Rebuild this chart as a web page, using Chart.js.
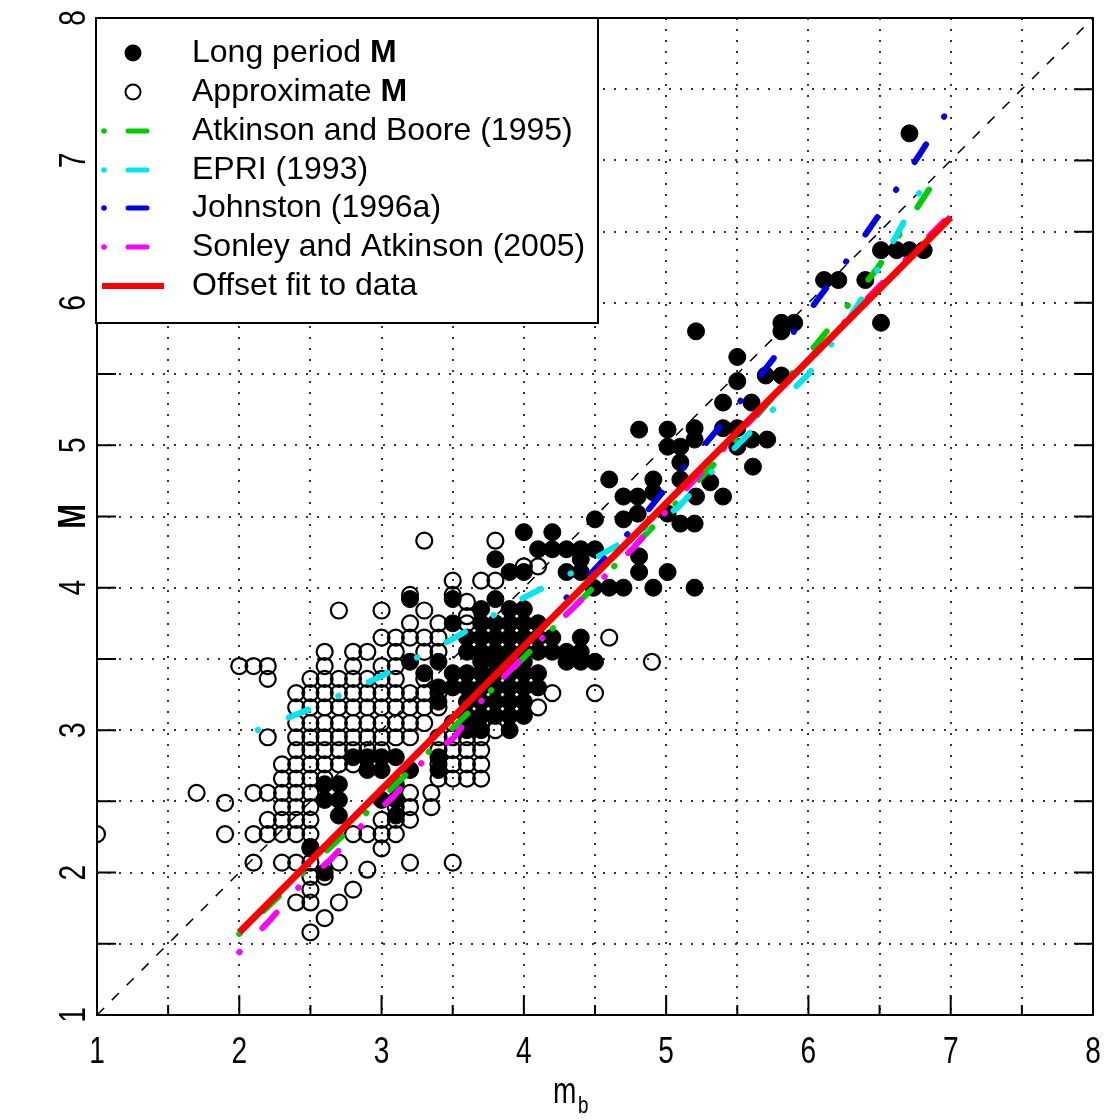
<!DOCTYPE html>
<html>
<head>
<meta charset="utf-8">
<script src="https://cdn.jsdelivr.net/npm/chart.js@4.4.1/dist/chart.umd.min.js"></script>
<style>
  html, body { margin: 0; padding: 0; background: #fff; }
  #wrap { width: 1107px; height: 1120px; }
</style>
</head>
<body>
<div id="wrap"><canvas id="chart" width="1107" height="1120"></canvas></div>
<script>
// axis ticks (every 0.5, labels on the integers)
const tickVals = [1, 1.5, 2, 2.5, 3, 3.5, 4, 4.5, 5, 5.5, 6, 6.5, 7, 7.5, 8];
const tickLabels = ['1', '2', '3', '4', '5', '6', '7', '8'];

// Long period M : rows of [M, [mb, ...]]
const longRows = [
  [7.19, [6.71]],
  [6.37, [6.51, 6.62, 6.71, 6.81]],
  [6.16, [6.11, 6.21, 6.4]],
  [5.86, [5.81, 5.9, 6.51]],
  [5.8, [5.21, 5.81]],
  [5.62, [5.5]],
  [5.49, [5.7, 5.81]],
  [5.45, [5.5]],
  [5.3, [5.4, 5.6]],
  [5.12, [5.2, 5.4, 5.5]],
  [5.11, [4.81, 5.01]],
  [5.04, [5.2, 5.6, 5.71]],
  [4.99, [5.01, 5.1, 5.5]],
  [4.88, [5.1]],
  [4.85, [5.61]],
  [4.76, [4.6, 4.91, 5.1]],
  [4.74, [5.31]],
  [4.67, [4.91]],
  [4.64, [4.7, 4.8, 5.21, 5.4]],
  [4.52, [4.8, 5.01]],
  [4.48, [4.5, 4.7]],
  [4.45, [5.1, 5.2]],
  [4.39, [4.0, 4.2]],
  [4.27, [4.1, 4.2, 4.3, 4.4, 4.5]],
  [4.22, [4.81]],
  [4.2, [3.8, 4.4]],
  [4.11, [3.9, 4.0, 4.3, 4.4, 4.81, 5.01]],
  [4.0, [4.49, 4.6, 4.7, 4.91, 5.2]],
  [3.92, [3.2, 3.5, 3.8]],
  [3.85, [3.7, 3.9, 4.0]],
  [3.75, [3.5, 3.7, 3.8, 3.9, 4.0, 4.1]],
  [3.65, [3.6, 3.7, 3.8, 3.9, 4.0, 4.1, 4.2, 4.4]],
  [3.55, [3.6, 3.7, 3.8, 3.9, 4.0, 4.1, 4.2, 4.3, 4.4]],
  [3.48, [3.2, 3.4, 3.7, 3.8, 3.9, 4.0, 4.3, 4.4, 4.5]],
  [3.4, [3.3, 3.5, 3.6, 3.7, 3.8, 3.9, 4.0, 4.1]],
  [3.3, [3.4, 3.5, 3.6, 3.7, 3.8, 3.9, 4.0, 4.1]],
  [3.2, [3.4, 3.6, 3.7, 3.8, 3.9, 4.0]],
  [3.1, [3.6, 3.7, 3.8, 3.9, 4.0]],
  [3.0, [3.6, 3.7, 3.9]],
  [2.81, [2.8, 2.9, 3.0, 3.1, 3.4]],
  [2.72, [2.9, 3.0, 3.2, 3.4]],
  [2.62, [2.6, 2.7, 3.1]],
  [2.51, [2.6, 2.7, 3.0, 3.1]],
  [2.4, [2.7, 3.1]],
  [2.18, [2.5]],
  [2.0, [2.6]]
];

// Approximate M : rows of [M, [mb, ...]]
const approxRows = [
  [4.33, [3.3, 3.8]],
  [4.15, [4.0, 4.1]],
  [4.05, [3.5, 3.7, 3.8]],
  [3.95, [3.2, 3.5]],
  [3.9, [3.6]],
  [3.84, [2.7, 3.0, 3.3]],
  [3.8, [3.6]],
  [3.75, [3.2, 3.4, 3.6]],
  [3.65, [3.0, 3.1, 3.2, 3.3, 3.4, 4.6]],
  [3.55, [2.6, 2.8, 2.9, 3.1, 3.3, 3.4]],
  [3.48, [4.9]],
  [3.45, [2.0, 2.1, 2.2, 2.6, 2.8, 3.0, 3.1]],
  [3.36, [2.2, 2.5, 2.6, 2.7, 2.8, 2.9, 3.0, 3.1, 3.3]],
  [3.26, [2.4, 2.5, 2.6, 2.7, 2.8, 2.9, 3.0, 3.1, 3.2, 3.3, 3.4, 4.2, 4.5]],
  [3.16, [2.4, 2.5, 2.6, 2.7, 2.8, 2.9, 3.0, 3.1, 3.2, 3.3, 3.4, 4.1]],
  [3.05, [2.4, 2.5, 2.6, 2.7, 2.8, 2.9, 3.0, 3.1, 3.2, 3.3, 3.5, 3.6, 3.7]],
  [3.0, [3.8]],
  [2.95, [2.2, 2.4, 2.5, 2.6, 2.7, 2.8, 2.9, 3.0, 3.1, 3.2, 3.4, 3.5, 3.6, 3.7]],
  [2.86, [2.4, 2.5, 2.6, 2.7, 2.8, 2.9, 3.0, 3.4, 3.5, 3.6, 3.7]],
  [2.76, [2.3, 2.4, 2.5, 2.6, 2.7, 2.8, 3.4, 3.5, 3.6, 3.7]],
  [2.66, [2.3, 2.4, 2.5, 2.6, 3.4, 3.5, 3.6, 3.7]],
  [2.56, [1.7, 2.1, 2.2, 2.3, 2.4, 2.5, 3.2, 3.35]],
  [2.49, [1.9]],
  [2.46, [2.3, 2.4, 2.5, 3.1, 3.2, 3.35]],
  [2.37, [2.2, 2.3, 2.4, 2.5, 3.0, 3.1, 3.2]],
  [2.27, [1.0, 1.9, 2.1, 2.2, 2.3, 2.4, 2.5, 2.8, 2.9, 3.0, 3.1]],
  [2.17, [2.5, 3.0]],
  [2.07, [2.1, 2.3, 2.4, 2.5, 2.7, 3.2, 3.5]],
  [2.02, [2.9]],
  [1.97, [2.5, 2.6]],
  [1.88, [2.5, 2.8]],
  [1.79, [2.4, 2.5, 2.7]],
  [1.68, [2.6]],
  [1.58, [2.5]]
];

// model curves: mb and M
const abMb = [2.0, 3.0, 3.77, 4.21, 4.91, 5.34, 5.7, 6.04, 6.3, 6.49, 6.85];
const abM = [1.57, 2.52, 3.28, 3.72, 4.43, 4.87, 5.28, 5.69, 6.01, 6.25, 6.8];
const epriMb = [2.13, 2.5, 3.0, 3.5, 4.0, 4.35, 4.54, 4.8, 5.08, 5.2, 5.5, 5.78, 6.0, 6.2, 6.37, 6.65, 6.81];
const epriM = [3.0, 3.15, 3.38, 3.64, 3.93, 4.11, 4.23, 4.38, 4.56, 4.69, 5.0, 5.28, 5.5, 5.76, 6.02, 6.53, 6.83];
const johnMb = [4.3, 4.49, 4.77, 5.05, 5.31, 5.57, 5.84, 6.07, 6.31, 6.56, 6.78, 7.0];
const johnM = [3.93, 4.12, 4.42, 4.76, 5.05, 5.37, 5.72, 6.03, 6.35, 6.71, 7.04, 7.38];
const saMb = [2.0, 2.22, 2.41, 2.64, 2.86, 3.08, 3.29, 3.51, 3.72, 4.05, 4.38, 4.77, 5.2, 5.6, 6.0, 6.5, 7.0];
const saM = [1.44, 1.67, 1.89, 2.09, 2.33, 2.53, 2.78, 2.95, 3.23, 3.57, 3.89, 4.28, 4.76, 5.18, 5.6, 6.12, 6.62];
const fitMb = [2.0, 7.0];
const fitM = [1.58, 6.6];
const oneToOne = [1, 8];

const legendItems = [
  {text: 'Long period ', bold: 'M', kind: 'filled'},
  {text: 'Approximate ', bold: 'M', kind: 'open'},
  {text: 'Atkinson and Boore (1995)', kind: 'dash', color: '#00cc00'},
  {text: 'EPRI (1993)', kind: 'dash', color: '#00e5ee'},
  {text: 'Johnston (1996a)', kind: 'dash', color: '#0000ee'},
  {text: 'Sonley and Atkinson (2005)', kind: 'dash', color: '#ff00ff'},
  {text: 'Offset fit to data', kind: 'solid', color: '#ff0000'}
];

const fromRows = rows => rows.flatMap(r => r[1].map(mb => ({x: mb, y: r[0]})));
const pairs = (xs, ys) => xs.map((v, i) => ({x: v, y: ys[i]}));

const dashDot = [0.5, 33, 21, 33];
function curve(label, xs, ys, color, order) {
  return {
    type: 'line', label, data: pairs(xs, ys), borderColor: color, borderWidth: 6,
    borderDash: dashDot, borderCapStyle: 'round', pointRadius: 0, fill: false,
    tension: 0, order
  };
}

const FONT = '"Liberation Sans", Arial, sans-serif';
const SQUEEZE = 0.78; // axis text is narrow in the original

function narrowText(ctx, t, x, y, rot) {
  ctx.save();
  ctx.translate(x, y);
  if (rot) ctx.rotate(rot);
  ctx.scale(SQUEEZE, 1);
  ctx.fillText(t, 0, 0);
  ctx.restore();
}

const decor = {
  id: 'decor',
  afterDraw(chart) {
    const {ctx, chartArea: a, scales: {x, y}} = chart;
    ctx.save();
    // frame
    ctx.strokeStyle = '#000';
    ctx.lineWidth = 2;
    ctx.strokeRect(a.left, a.top, a.right - a.left, a.bottom - a.top);
    // inward ticks
    ctx.beginPath();
    tickVals.forEach(v => {
      const px = x.getPixelForValue(v);
      const len = Number.isInteger(v) ? 20 : 10;
      ctx.moveTo(px, a.bottom); ctx.lineTo(px, a.bottom - len);
      const py = y.getPixelForValue(v);
      ctx.moveTo(a.left, py); ctx.lineTo(a.left + 19, py);
      ctx.moveTo(a.right, py); ctx.lineTo(a.right - 19, py);
    });
    ctx.stroke();
    // tick labels
    ctx.fillStyle = '#000';
    ctx.font = '36px ' + FONT;
    ctx.textAlign = 'center';
    ctx.textBaseline = 'middle';
    tickLabels.forEach(t => {
      const v = Number(t);
      narrowText(ctx, t, x.getPixelForValue(v), 1053, 0);
      narrowText(ctx, t, 75, y.getPixelForValue(v), -Math.PI / 2);
    });
    // axis titles
    ctx.font = 'bold 38px ' + FONT;
    narrowText(ctx, 'M', 75, (a.top + a.bottom) / 2, -Math.PI / 2);
    ctx.textAlign = 'left';
    ctx.font = '36px ' + FONT;
    narrowText(ctx, 'm', 553, 1093, 0);
    ctx.font = '24px ' + FONT;
    narrowText(ctx, 'b', 578, 1106, 0);

    // legend
    const lx = 96, ly = 18, lw = 502, lh = 305;
    ctx.fillStyle = '#fff';
    ctx.fillRect(lx, ly, lw, lh);
    ctx.strokeStyle = '#000';
    ctx.lineWidth = 2;
    ctx.strokeRect(lx, ly, lw, lh);
    const rowY = [53, 92, 131, 170, 208, 247, 286];
    legendItems.forEach((it, i) => {
      const cy = rowY[i];
      ctx.lineCap = 'round';
      if (it.kind === 'filled') {
        ctx.fillStyle = '#000';
        ctx.beginPath(); ctx.arc(133, cy, 8.5, 0, Math.PI * 2); ctx.fill();
      } else if (it.kind === 'open') {
        ctx.strokeStyle = '#000'; ctx.lineWidth = 2;
        ctx.beginPath(); ctx.arc(133, cy, 7.5, 0, Math.PI * 2); ctx.stroke();
      } else if (it.kind === 'dash') {
        ctx.fillStyle = it.color;
        ctx.beginPath(); ctx.arc(104, cy, 2.8, 0, Math.PI * 2); ctx.fill();
        ctx.strokeStyle = it.color; ctx.lineWidth = 5;
        ctx.beginPath(); ctx.moveTo(128, cy); ctx.lineTo(147, cy); ctx.stroke();
      } else {
        ctx.strokeStyle = it.color; ctx.lineWidth = 6; ctx.lineCap = 'butt';
        ctx.beginPath(); ctx.moveTo(102, cy); ctx.lineTo(164, cy); ctx.stroke();
      }
      ctx.fillStyle = '#000';
      ctx.textAlign = 'left';
      ctx.textBaseline = 'middle';
      ctx.font = '32px ' + FONT;
      ctx.fillText(it.text, 192, cy);
      if (it.bold) {
        const w = ctx.measureText(it.text).width;
        ctx.font = 'bold 32px ' + FONT;
        ctx.fillText(it.bold, 192 + w, cy);
      }
    });
    ctx.restore();
  }
};

const axisCommon = {
  type: 'linear', min: 1, max: 8,
  ticks: {stepSize: 0.5, display: false},
  grid: {color: '#333', lineWidth: 2, drawTicks: false},
  border: {display: false, dash: [2, 9]},
  title: {display: false}
};

new Chart(document.getElementById('chart'), {
  type: 'scatter',
  data: {
    datasets: [
      {type: 'line', label: 'Offset fit to data', data: pairs(fitMb, fitM), borderColor: '#ff0000',
        borderWidth: 7, pointRadius: 0, order: 0},
      curve('Sonley and Atkinson (2005)', saMb, saM, '#ff00ff', 1),
      curve('Johnston (1996a)', johnMb, johnM, '#0000ee', 2),
      curve('EPRI (1993)', epriMb, epriM, '#00e5ee', 3),
      curve('Atkinson and Boore (1995)', abMb, abM, '#00cc00', 4),
      {label: 'Long period M', data: fromRows(longRows), pointRadius: 8.5, borderWidth: 1,
        backgroundColor: '#000', borderColor: '#000', order: 5},
      {label: 'Approximate M', data: fromRows(approxRows), pointRadius: 8, borderWidth: 2.2,
        backgroundColor: 'rgba(0,0,0,0)', borderColor: '#000', order: 6},
      {type: 'line', label: '1:1', data: pairs(oneToOne, oneToOne), borderColor: '#000',
        borderWidth: 1.5, borderDash: [10, 11], pointRadius: 0, order: 7}
    ]
  },
  options: {
    responsive: false,
    animation: false,
    devicePixelRatio: 1,
    layout: {padding: {top: 18, right: 14, left: 0, bottom: 0}},
    plugins: {legend: {display: false}, tooltip: {enabled: false}},
    scales: {
      x: Object.assign({}, axisCommon, {position: 'bottom', afterFit(s) { s.height = 105; }}),
      y: Object.assign({}, axisCommon, {position: 'left', afterFit(s) { s.width = 97; }})
    }
  },
  plugins: [decor]
});
</script>
</body>
</html>
